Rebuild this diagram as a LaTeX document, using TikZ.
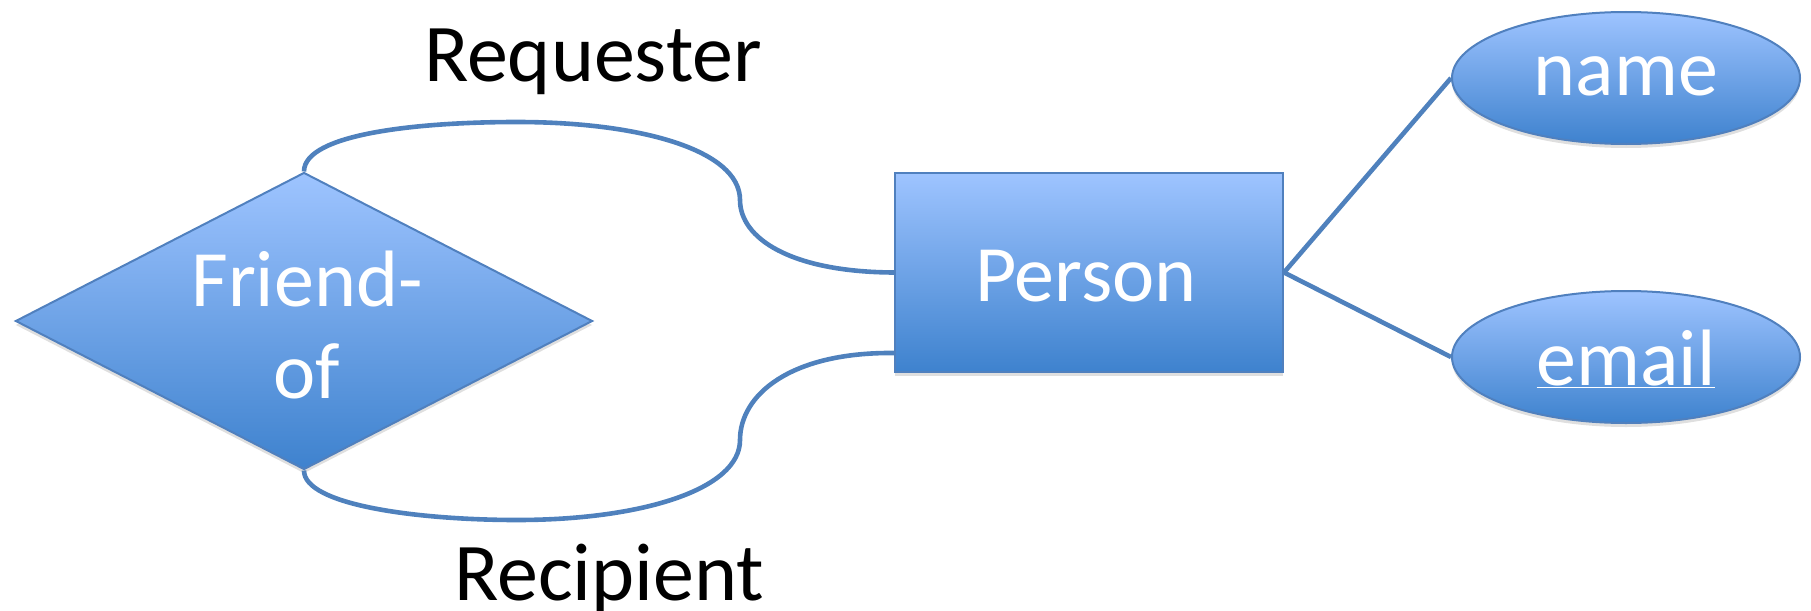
\documentclass[tikz,border=0pt]{standalone}
\usepackage{fontspec}
\setmainfont{Carlito}
\usetikzlibrary{shapes.geometric,calc,shadows}
\definecolor{erline}{RGB}{79,129,189}
\definecolor{erborder}{RGB}{80,128,190}
\definecolor{ertop}{RGB}{158,196,255}
\definecolor{erbot}{RGB}{62,130,206}
\tikzset{
  erfill/.style={draw=erborder, line width=2pt, top color=ertop, bottom color=erbot,
    drop shadow={opacity=0.25, shadow xshift=0pt, shadow yshift=-4pt}},
  ertext/.style={text=white, font=\fontsize{80}{92}\selectfont, inner sep=0pt},
  erlabel/.style={text=black, font=\fontsize{82}{96}\selectfont, inner sep=0pt},
  conn/.style={draw=erline, line width=4.6pt},
}
\begin{document}
\begin{tikzpicture}[x=1pt,y=-1pt]
\useasboundingbox (0,0) rectangle (1811,610);
% entities and relationship
\node[erfill, diamond, minimum width=577pt, minimum height=297pt, inner sep=0pt] (fr) at (304,321) {};
\node[ertext, align=center] (frt) at (307,325) {Friend-\\of};
\node[erfill, rectangle, minimum width=388pt, minimum height=199pt, inner sep=0pt] (person) at (1089,272.5) {};
\node[ertext] (pt) at (1086,276) {Person};
\node[erfill, ellipse, minimum width=348pt, minimum height=132pt, inner sep=0pt] (name) at (1626,78) {};
\node[ertext] (nt) at (1626,76) {name};
\node[erfill, ellipse, minimum width=348pt, minimum height=132pt, inner sep=0pt] (email) at (1626,357) {};
\node[ertext] (et) at (1626,359) {\underline{email}};
% role labels
\node[erlabel] (req) at (593,62) {Requester};
\node[erlabel] (rec) at (609,579) {Recipient};
% connectors
\coordinate (lowin) at ($(person.south west)+(0,-20)$);
\draw[conn] (fr.north) .. controls +(0,-38) and (420,122) .. (517,122)
  .. controls (640,122) and (740,150) .. (740,200)
  .. controls (740,238) and (790,272) .. (person.west);
\draw[conn] (fr.south) .. controls +(0,35) and (420,520) .. (517,520)
  .. controls (640,520) and (740,490) .. (740,440)
  .. controls (740,395) and (790,352) .. (lowin);
\draw[conn] (person.east) -- (name.west);
\draw[conn] (person.east) -- (email.west);
\end{tikzpicture}
\end{document}
